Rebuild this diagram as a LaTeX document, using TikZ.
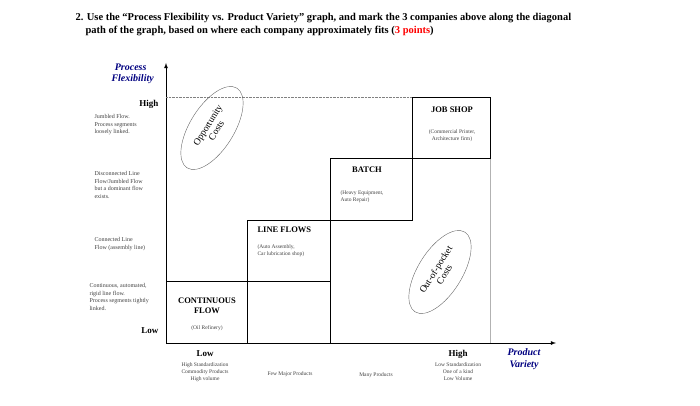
\documentclass[tikz,border=0pt]{standalone}
\usepackage{fontspec}
\setmainfont{Liberation Serif}
\begin{document}
\begin{tikzpicture}[x=1pt,y=-1pt,
  small/.style={font=\fontsize{6}{7.5}\selectfont, align=left, text=black!75},
  tiny/.style={font=\fontsize{5.5}{7}\selectfont, align=center, text=black!75},
  boxtitle/.style={font=\bfseries\fontsize{8.5}{10}\selectfont, align=center},
  ell/.style={font=\fontsize{9.5}{10}\selectfont, align=center},
  axlab/.style={font=\bfseries\itshape\fontsize{10}{11.5}\selectfont, text=blue!50!black, align=center},
  hl/.style={font=\bfseries\fontsize{9}{10}\selectfont}]
\useasboundingbox (0,0) rectangle (700,406);
\node[anchor=north west, font=\bfseries\fontsize{10.5}{13}\selectfont, align=left] (title) at (72,10)
 {2. Use the ``Process Flexibility vs. Product Variety'' graph, and mark the 3 companies above along the diagonal\\
 \hspace*{10pt}path of the graph, based on where each company approximately fits ({\color{red}3 points})};
\coordinate (o) at (166,343);
\coordinate (ytop) at (166,63);
\coordinate (xend) at (556,343);
\draw[thick,-latex] (o) -- (ytop);
\draw[thick,-latex] (o) -- (xend);
\draw[densely dotted, gray] (166,97) -- (490,97);
\draw[gray!60] (490,158) -- (490,343);
% boxes
\draw[thick] (166,281) -- (330,281);
\draw[thick] (247,281) -- (247,343);
\draw[thick] (247,343) -- (247,220) -- (330,220) -- (330,343);
\draw[thick] (330,220) -- (330,158) -- (412,158) -- (412,220) -- (330,220);
\draw[thick] (412,158) -- (412,97) -- (490,97) -- (490,158) -- (412,158);
\node[boxtitle] (cf) at (207,306) {CONTINUOUS\\FLOW};
\node[tiny] (cfs) at (207,328) {(Oil Refinery)};
\node[boxtitle, anchor=west] (lf) at (254,230) {LINE FLOWS};
\node[tiny, anchor=west, align=left] (lfs) at (254,251) {(Auto Assembly,\\Car lubrication shop)};
\node[boxtitle] (ba) at (367,170) {BATCH};
\node[tiny, anchor=west, align=left] (bas) at (337,197) {(Heavy Equipment,\\Auto Repair)};
\node[boxtitle] (js) at (452,110) {JOB SHOP};
\node[tiny] (jss) at (452,136) {(Commercial Printer,\\Architecture firm)};
% ellipses
\draw[gray!80!black, rotate around={58:(212,128)}] (212,128) ellipse (47 and 22);
\node[rotate=58, ell] (opp) at (212,128) {Opportunity\\Costs};
\draw[gray!80!black, rotate around={58:(440,272)}] (440,272) ellipse (47 and 22);
\node[rotate=58, ell] (oop) at (440,272) {Out-of-pocket\\Costs};
% axis labels
\node[axlab, anchor=west] (pf) at (104,74) {Process\\\hspace*{4pt}Flexibility};
\node[hl, anchor=east] (hi) at (162,104) {High};
\node[hl, anchor=east] (lo) at (162,331) {Low};
\node[small, anchor=west] (y1) at (91,125) {Jumbled Flow.\\Process segments\\loosely linked.};
\node[small, anchor=west] (y2) at (91,185) {Disconnected Line\\Flow/Jumbled Flow\\but a dominant flow\\exists.};
\node[small, anchor=west] (y3) at (91,244) {Connected Line\\Flow (assembly line)};
\node[small, anchor=west] (y4) at (86,297) {Continuous, automated,\\rigid line flow.\\Process segments tightly\\linked.};
\node[hl] (xlo) at (205,354) {Low};
\node[tiny] (x1) at (205,372) {High Standardization\\Commodity Products\\High volume};
\node[tiny] (x2) at (290,374) {Few Major Products};
\node[tiny] (x3) at (376,375) {Many Products};
\node[hl] (xhi) at (458,354) {High};
\node[tiny] (x4) at (458,372) {Low Standardization\\One of a kind\\Low Volume};
\node[axlab] (pv) at (524,359) {Product\\Variety};
\end{tikzpicture}
\end{document}
